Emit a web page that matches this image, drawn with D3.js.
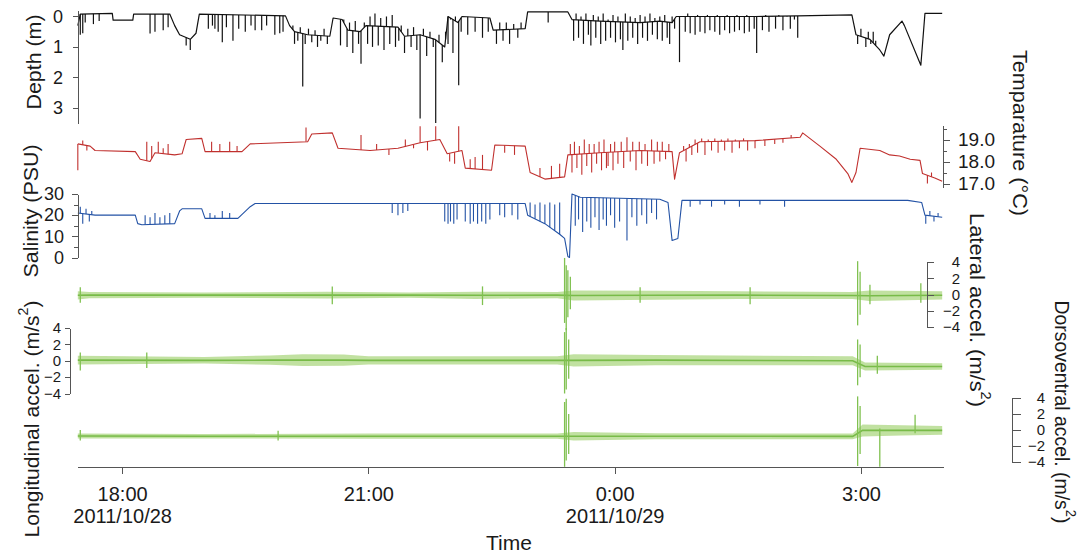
<!DOCTYPE html>
<html><head><meta charset="utf-8">
<script src="https://cdn.jsdelivr.net/npm/d3@7"></script>
<style>
body{margin:0;background:#fff}
svg text{font-family:"Liberation Sans",Arial,sans-serif;fill:#1a1a1a}
.ax path,.ax line{stroke:#555;stroke-width:1;shape-rendering:crispEdges}
</style></head><body>
<svg id="c" width="1084" height="557"></svg>
<script>
// time values: decimal hours counted from 2011/10/28 00:00 (values >= 24 fall on 2011/10/29)
const timeTicks = [18, 21, 24, 27];
const timeTickLabels = ["18:00", "21:00", "0:00", "3:00"];
const dateTickLabels = ["2011/10/28", "", "2011/10/29", ""];

const depthTicks = [0, 1, 2, 3];
const tempTicks = [17, 18, 19];
const tempMinorTicks = [17, 17.5, 18, 18.5, 19, 19.5];
const salTicks = [0, 10, 20, 30];
const salMinorTicks = [0, 5, 10, 15, 20, 25, 30];
const accTicks = [-4, -2, 0, 2, 4];

// Depth (m): base trace [hour, depth] and dive spikes [hour, depth]
const depthBase = [[17.46,0.3],[17.49,-0.08],[17.88,-0.1],[17.89,0.12],[18.13,0.12],[18.14,-0.08],[18.58,-0.08],[18.64,0.3],[18.70,0.6],[18.83,0.75],[18.90,0.55],[18.94,-0.08],[19.99,-0.02],[20.04,0.3],[20.10,0.5],[20.26,0.6],[20.53,0.65],[20.57,0.05],[20.68,0.1],[20.75,0.45],[20.90,0.5],[20.97,0.3],[21.36,0.35],[21.44,0.65],[21.63,0.6],[21.81,0.75],[21.93,1.0],[21.97,0.0],[22.09,0.2],[22.14,0.0],[22.48,0.05],[22.52,0.45],[22.91,0.4],[22.94,-0.15],[23.43,-0.15],[23.48,0.1],[23.82,0.15],[24.31,0.2],[24.55,0.15],[24.70,0.2],[24.75,0.0],[25.71,0.0],[26.23,-0.02],[26.89,-0.05],[26.94,0.6],[27.11,0.75],[27.23,1.1],[27.28,1.3],[27.35,0.6],[27.50,0.15],[27.53,0.3],[27.73,1.6],[27.78,-0.1],[27.99,-0.1]];
const depthSpikes = [[17.49,0.6],[17.52,0.55],[17.55,0.2],[17.65,0.25],[17.72,0.15],[18.34,0.56],[18.40,0.5],[18.50,0.45],[18.56,0.35],[18.78,0.95],[18.83,1.1],[19.05,0.4],[19.10,0.3],[19.13,0.4],[19.17,0.5],[19.22,0.85],[19.27,0.35],[19.35,0.8],[19.42,0.4],[19.50,0.5],[19.57,0.3],[19.62,0.45],[19.70,0.45],[19.76,0.3],[19.86,0.6],[19.92,0.55],[19.96,0.5],[20.08,0.3],[20.10,0.9],[20.14,0.8],[20.17,0.35],[20.20,2.3],[20.23,0.9],[20.27,0.4],[20.31,0.85],[20.35,0.45],[20.38,1.0],[20.42,0.8],[20.46,0.4],[20.50,0.9],
[20.66,0.95],[20.70,0.1],[20.74,1.0],[20.77,0.2],[20.81,1.2],[20.84,0.15],[20.88,0.9],[20.91,1.55],[20.95,0.2],[20.99,0.9],[21.02,0.0],[21.05,1.0],[21.08,-0.1],[21.12,0.95],[21.15,0.05],[21.19,1.1],[21.22,0.0],[21.26,0.9],[21.29,-0.05],[21.33,1.0],[21.37,0.8],[21.40,0.3],[21.44,1.2],[21.48,0.4],[21.52,1.0],[21.55,0.35],[21.59,1.1],[21.63,3.35],[21.67,0.4],[21.71,1.3],[21.75,0.5],[21.79,1.0],[21.82,3.5],[21.86,0.6],[21.90,1.5],[21.94,0.5],[21.97,0.9],[22.00,0.1],[22.03,1.2],[22.06,0.0],[22.10,2.26],[22.13,0.5],
[22.21,0.6],[22.30,0.5],[22.39,0.7],[22.46,0.5],[22.56,0.9],[22.60,0.2],[22.64,0.8],[22.68,0.2],[22.72,0.9],[22.77,0.25],[22.82,0.7],[22.86,0.2],[23.19,0.2],
[23.50,0.8],[23.53,-0.1],[23.56,0.7],[23.59,0.0],[23.62,0.9],[23.65,-0.1],[23.68,0.6],[23.71,0.95],[23.74,-0.05],[23.77,0.7],[23.80,0.0],[23.83,0.9],[23.86,-0.1],[23.89,0.8],[23.92,0.1],[23.95,0.7],[23.98,-0.05],[24.01,0.85],[24.04,0.0],[24.07,0.75],[24.10,1.1],[24.13,-0.1],[24.16,0.8],[24.19,0.0],[24.22,0.7],[24.25,0.05],[24.28,0.9],[24.31,-0.05],[24.34,0.7],[24.37,0.0],[24.40,0.8],[24.43,-0.1],[24.46,0.6],[24.49,0.05],[24.52,0.75],[24.55,0.0],[24.58,0.8],[24.61,-0.05],[24.64,0.7],[24.67,0.9],[24.70,0.0],[24.73,0.4],[24.79,1.5],[24.83,0.0],[24.86,0.5],[24.89,-0.1],[24.92,0.55],[24.95,0.0],[24.98,0.6],[25.01,-0.05],[25.04,0.5],[25.07,0.0],[25.10,0.55],[25.13,-0.05],[25.16,0.45],[25.19,0.0],[25.22,0.5],[25.25,-0.05],[25.28,0.6],[25.31,0.0],[25.34,0.45],[25.37,-0.05],[25.40,0.55],[25.43,0.0],[25.46,0.5],[25.49,-0.05],[25.52,0.45],[25.55,0.0],[25.58,0.55],[25.61,-0.05],[25.64,0.5],[25.67,0.0],[25.70,0.4],[25.73,1.2],[25.77,0.0],[25.80,0.45],[25.84,-0.05],[25.88,0.5],[25.92,0.0],[25.96,0.4],[26.00,-0.05],[26.05,0.45],[26.10,0.0],[26.14,0.4],[26.19,0.1],[26.23,0.7],
[26.96,0.9],[27.00,0.4],[27.06,1.0],[27.09,0.5],[27.12,0.9],[27.15,0.5],[27.18,0.8]];

// Temperature (°C)
const tempBase = [[17.46,18.8],[17.61,18.7],[17.67,18.5],[18.16,18.45],[18.22,18.1],[18.34,18.0],[18.40,18.4],[18.64,18.3],[18.73,18.35],[18.78,19.0],[18.97,19.05],[19.01,18.45],[19.46,18.45],[19.56,18.8],[20.26,18.9],[20.31,19.25],[20.56,19.3],[20.63,18.6],[21.02,18.5],[21.36,18.6],[21.63,18.85],[21.87,19.0],[21.96,18.35],[22.14,18.5],[22.18,17.7],[22.50,17.6],[22.54,18.75],[22.91,18.7],[22.97,17.5],[23.15,17.2],[23.39,17.3],[23.43,18.3],[23.82,18.4],[24.31,18.5],[24.70,18.45],[24.73,17.2],[24.79,18.4],[25.04,18.9],[25.71,18.95],[26.26,19.1],[26.29,19.3],[26.50,18.7],[26.70,18.1],[26.84,17.45],[26.89,17.05],[26.94,17.5],[26.99,18.6],[27.23,18.5],[27.35,18.3],[27.47,18.25],[27.60,18.1],[27.72,18.05],[27.75,17.45],[27.90,17.25],[27.99,17.1]];
const tempSpikes = [[17.46,17.6],[17.52,18.95],[17.57,18.5],[18.30,18.9],[18.36,18.7],[18.44,18.9],[18.50,18.6],[18.56,18.8],[19.09,18.9],[19.19,18.8],[19.31,18.9],[19.40,18.7],[20.24,19.55],[20.91,19.2],[21.10,18.8],[21.25,18.3],[21.45,19.0],[21.55,18.6],[21.63,19.6],[21.72,18.5],[21.82,19.6],[22.10,19.6],[21.99,18.0],[22.05,17.9],[22.24,18.1],[22.30,18.2],[22.39,18.3],[22.66,18.4],[22.78,18.3],[23.09,17.7],[23.23,17.8],[23.33,17.9],
[23.46,18.8],[23.48,17.5],[23.51,18.9],[23.54,17.7],[23.57,18.7],[23.60,17.4],[23.63,19.0],[23.66,17.8],[23.69,18.8],[23.72,17.5],[23.75,18.8],[23.78,17.9],[23.81,18.9],[23.84,17.6],[23.87,19.0],[23.90,17.7],[23.92,17.8],[23.95,18.8],[23.98,17.6],[24.00,18.9],[24.04,17.9],[24.08,18.9],[24.11,17.7],[24.15,19.1],[24.19,18.0],[24.22,18.9],[24.26,17.6],[24.30,18.9],[24.33,17.9],[24.37,18.8],[24.40,17.8],[24.45,19.0],[24.48,17.9],[24.52,18.9],[24.55,18.0],[24.58,18.9],[24.62,18.1],[24.66,18.8],
[24.84,18.7],[24.87,18.0],[24.91,18.8],[24.94,18.3],[24.98,19.0],[25.01,18.4],[25.06,19.05],[25.10,18.3],[25.14,19.0],[25.18,18.5],[25.22,19.05],[25.26,18.4],[25.30,19.0],[25.34,18.5],[25.38,19.05],[25.43,18.4],[25.47,19.0],[25.52,18.6],[25.57,19.05],[25.62,18.5],[25.71,18.6],[25.83,18.7],[25.95,18.8],[26.05,18.85],[26.15,19.2],[27.81,17.0],[27.86,17.5]];

// Salinity (PSU)
const salBase = [[17.46,21],[17.67,20],[18.16,20],[18.19,16],[18.24,15.5],[18.64,16],[18.70,22],[18.73,23],[18.97,23],[19.01,18.5],[19.41,18.5],[19.56,24],[19.62,25.5],[22.91,25.5],[22.94,20],[23.15,16],[23.33,11],[23.39,9],[23.43,0.5],[23.45,0],[23.48,30],[23.58,28.5],[24.55,27.5],[24.65,26],[24.70,8],[24.77,9],[24.82,27],[26.11,27],[27.57,27],[27.74,26],[27.78,20],[27.99,19]];
const salSpikes = [[17.49,24],[17.52,16],[17.56,23],[17.60,17],[17.63,22],[18.28,20],[18.34,19],[18.40,21],[18.46,19],[18.52,20],[18.58,21],[19.07,21],[19.13,20],[19.22,22],[19.31,21],[21.29,21],[21.36,20],[21.42,21],[21.48,22],[21.93,17],[21.97,16],[22.00,17],[22.04,16],[22.08,18],[22.18,17],[22.24,16],[22.28,17],[22.33,16],[22.38,17],[22.43,16],[22.48,18],[22.60,20],[22.66,19],[22.75,20],[22.82,18],[22.97,26],[23.03,25],[23.09,26],[23.15,25],[23.21,26],[23.27,25],[23.33,26],[23.52,15],[23.56,18],[23.61,12],[23.66,17],[23.71,14],[23.76,19],[23.81,13],[23.86,18],[23.90,15],[23.95,20],[24.00,14],[24.06,17],[24.15,8],[24.21,19],[24.27,15],[24.33,20],[24.39,16],[24.45,21],[24.51,18],[24.92,24],[25.04,25],[25.18,24],[25.34,25],[25.52,24],[25.77,25],[26.07,24],[27.79,16],[27.84,22],[27.89,17],[27.94,21]];

// Accelerations (m/s²): band [hour, low, high] and spikes [hour, low, high]
const latBand = [[17.46,-0.6,0.4],[17.60,-0.45,0.3],[19.0,-0.4,0.25],[20.5,-0.5,0.35],[21.5,-0.4,0.25],[22.3,-0.55,0.35],[23.3,-0.45,0.3],[23.5,-0.75,0.5],[24.5,-0.65,0.45],[25.5,-0.55,0.4],[26.9,-0.55,0.3],[27.1,-0.8,0.5],[27.99,-0.6,0.4]];
const latSpikes = [[17.49,-1.0,0.9],[20.56,-1.2,1.0],[22.39,-1.3,1.0],[23.39,-3.5,4.5],[23.41,-4.4,3.6],[23.43,-2.8,3.0],[23.46,-1.8,2.2],[24.31,-1.0,0.9],[25.65,-1.2,0.9],[26.96,-3.8,4.1],[26.99,-2.5,2.8],[27.11,-1.2,1.2],[27.73,-1.0,1.4]];
const lonBand = [[17.46,-0.45,0.6],[19.0,-0.35,0.45],[19.8,-0.5,0.65],[20.2,-0.65,0.8],[20.7,-0.6,0.75],[21.0,-0.45,0.55],[22.5,-0.45,0.55],[23.3,-0.45,0.55],[23.5,-0.7,0.8],[24.5,-0.55,0.7],[26.9,-0.55,0.55],[27.05,-1.2,-0.2],[27.99,-1.1,-0.3]];
const lonSpikes = [[17.49,-1.2,1.0],[18.30,-0.9,1.0],[23.39,-4.0,3.5],[23.41,-3.5,4.0],[23.44,-2.2,2.6],[26.96,-3.0,2.6],[26.99,-2.0,2.0],[27.20,-1.6,0.6]];
const dvBand = [[17.46,-1.05,-0.45],[19.0,-1.05,-0.5],[21.0,-1.1,-0.45],[23.3,-1.1,-0.45],[23.5,-1.3,-0.25],[24.5,-1.15,-0.4],[26.9,-1.15,-0.45],[27.02,-0.8,0.7],[27.5,-0.7,0.6],[27.99,-0.6,0.5]];
const dvSpikes = [[17.49,-1.3,0.0],[19.90,-1.3,-0.1],[23.39,-4.6,3.5],[23.41,-3.8,3.9],[23.44,-3.0,2.0],[26.96,-4.5,4.2],[26.99,-3.0,3.0],[27.23,-4.6,0.2],[27.66,-0.4,1.9]];

const svg = d3.select("#c");
const T0 = new Date(2011, 9, 28, 0, 0, 0).getTime();
const T = h => new Date(T0 + h * 3600000);

const x = d3.scaleTime().domain([T(17.45), T(28.0)]).range([77, 943]);

const yDepth = d3.scaleLinear().domain([-0.2, 3.5]).range([10.4, 123]);
const yTemp = d3.scaleLinear().domain([16.8, 19.65]).range([187.9, 125.2]);
const ySal = d3.scaleLinear().domain([0, 30]).range([257.5, 194]);
const yLat = d3.scaleLinear().domain([-4, 4]).range([327, 262]);
const yLon = d3.scaleLinear().domain([-4, 4]).range([393.5, 328]);
const yDv = d3.scaleLinear().domain([-4, 4]).range([462, 398]);

function interpAt(arr, h, k) {
  const i = d3.bisector(d => d[0]).left(arr, h);
  if (i <= 0) return arr[0][k];
  if (i >= arr.length) return arr[arr.length - 1][k];
  const a = arr[i - 1], b = arr[i];
  return a[k] + (b[k] - a[k]) * (h - a[0]) / (b[0] - a[0]);
}

function drawTrace(base, spikes, y, color, w) {
  const g = svg.append("g");
  g.append("path").datum(base)
    .attr("d", d3.line().x(d => x(T(d[0]))).y(d => y(d[1])))
    .attr("fill", "none").attr("stroke", color).attr("stroke-width", w).attr("stroke-linejoin", "round");
  g.selectAll("line").data(spikes).join("line")
    .attr("x1", d => x(T(d[0]))).attr("x2", d => x(T(d[0])))
    .attr("y1", d => y(interpAt(base, d[0], 1))).attr("y2", d => y(d[1]))
    .attr("stroke", color).attr("stroke-width", w);
}

function drawAccel(band, spikes, y) {
  const g = svg.append("g");
  g.append("path").datum(band)
    .attr("d", d3.area().x(d => x(T(d[0]))).y0(d => y(d[1])).y1(d => y(d[2])))
    .attr("fill", "#b6dc90").attr("opacity", 0.85);
  g.append("path").datum(band)
    .attr("d", d3.line().x(d => x(T(d[0]))).y(d => y((d[1] + d[2]) / 2)))
    .attr("fill", "none").attr("stroke", "#78bb48").attr("stroke-width", 1.6);
  g.selectAll("line").data(spikes).join("line")
    .attr("x1", d => x(T(d[0]))).attr("x2", d => x(T(d[0])))
    .attr("y1", d => y(d[1])).attr("y2", d => y(d[2]))
    .attr("stroke", "#80c150").attr("stroke-width", 1.3);
}

drawTrace(depthBase, depthSpikes, yDepth, "#111", 1.2);
drawTrace(tempBase, tempSpikes, yTemp, "#c0302e", 1.1);
drawTrace(salBase, salSpikes, ySal, "#2352a5", 1.1);
drawAccel(latBand, latSpikes, yLat);
drawAccel(lonBand, lonSpikes, yLon);
drawAccel(dvBand, dvSpikes, yDv);

function styleAxis(fs) {
  return g => {
    g.attr("class", "ax");
    g.selectAll("text").attr("font-size", fs).attr("fill", "#1a1a1a");
  };
}
const TICKFS = 18;
const ACCFS = 15;

// depth axis
svg.append("g").attr("transform", "translate(78,0)")
  .call(d3.axisLeft(yDepth).tickValues(depthTicks).tickFormat(d3.format("d")).tickSize(5).tickSizeOuter(0).tickPadding(10))
  .call(styleAxis(TICKFS));

// temperature axis (right)
const tg = svg.append("g").attr("transform", "translate(943,0)");
tg.call(d3.axisRight(yTemp).tickValues(tempMinorTicks).tickFormat("").tickSize(4).tickSizeOuter(0));
tg.append("g").call(d3.axisRight(yTemp).tickValues(tempTicks).tickFormat(d3.format(".1f")).tickSize(7).tickSizeOuter(0).tickPadding(8))
  .call(g => g.select(".domain").remove());
tg.call(styleAxis(TICKFS + 1));

// salinity axis
const sg = svg.append("g").attr("transform", "translate(78,0)");
sg.call(d3.axisLeft(ySal).tickValues(salMinorTicks).tickFormat("").tickSize(4).tickSizeOuter(0));
sg.append("g").call(d3.axisLeft(ySal).tickValues(salTicks).tickFormat(d3.format("d")).tickSize(6).tickSizeOuter(0).tickPadding(8))
  .call(g => g.select(".domain").remove());
sg.call(styleAxis(TICKFS));

// lateral (right)
svg.append("g").attr("transform", "translate(927,0)")
  .call(d3.axisRight(yLat).tickValues(accTicks).tickSize(7).tickSizeOuter(0))
  .call(styleAxis(ACCFS))
  .call(g => g.selectAll(".tick text").attr("text-anchor", "end").attr("x", 33));

// longitudinal (left)
svg.append("g").attr("transform", "translate(70,0)")
  .call(d3.axisLeft(yLon).tickValues(accTicks).tickSize(5).tickSizeOuter(0).tickPadding(4))
  .call(styleAxis(ACCFS));

// dorsoventral (right, detached)
svg.append("g").attr("transform", "translate(1012,0)")
  .call(d3.axisRight(yDv).tickValues(accTicks).tickSize(9).tickSizeOuter(0))
  .call(styleAxis(ACCFS))
  .call(g => g.selectAll(".tick text").attr("text-anchor", "end").attr("x", 33));

// time axis
const xg = svg.append("g").attr("transform", "translate(0,467)")
  .call(d3.axisBottom(x).tickValues(timeTicks.map(T)).tickSize(7).tickSizeOuter(0).tickFormat(""))
  .call(styleAxis(20));
xg.selectAll(".tick").each(function(d, i) {
  const t = d3.select(this).append("text").attr("text-anchor", "middle").attr("font-size", 20).attr("fill", "#1a1a1a");
  t.append("tspan").attr("x", 0).attr("y", 34).text(timeTickLabels[i]);
  if (dateTickLabels[i]) t.append("tspan").attr("x", 0).attr("y", 56).text(dateTickLabels[i]);
});

// axis titles
function title(txt, xx, yy, rot, len, sup) {
  const t = svg.append("text").attr("transform", `translate(${xx},${yy}) rotate(${rot})`)
    .attr("text-anchor", "middle").attr("dominant-baseline", "central").attr("font-size", 21)
    .attr("textLength", len).attr("lengthAdjust", "spacingAndGlyphs");
  if (sup) {
    t.append("tspan").text(txt);
    t.append("tspan").attr("dy", -8).attr("font-size", 14).text("2");
    t.append("tspan").attr("dy", 8).text(")");
  } else t.text(txt);
}
title("Depth (m)", 33, 62, -90, 95);
title("Salinity (PSU)", 30, 211, -90, 133);
title("Longitudinal accel. (m/s", 31, 419, -90, 237, true);
title("Temparature (°C)", 1020, 133, 90, 166);
title("Lateral accel. (m/s", 978, 310, 90, 194, true);
title("Dorsoventral accel. (m/s", 1063, 412, 90, 223, true);
svg.append("text").attr("x", 509).attr("y", 542).attr("text-anchor", "middle").attr("dominant-baseline", "central").attr("font-size", 21).text("Time");
</script>
</body></html>
